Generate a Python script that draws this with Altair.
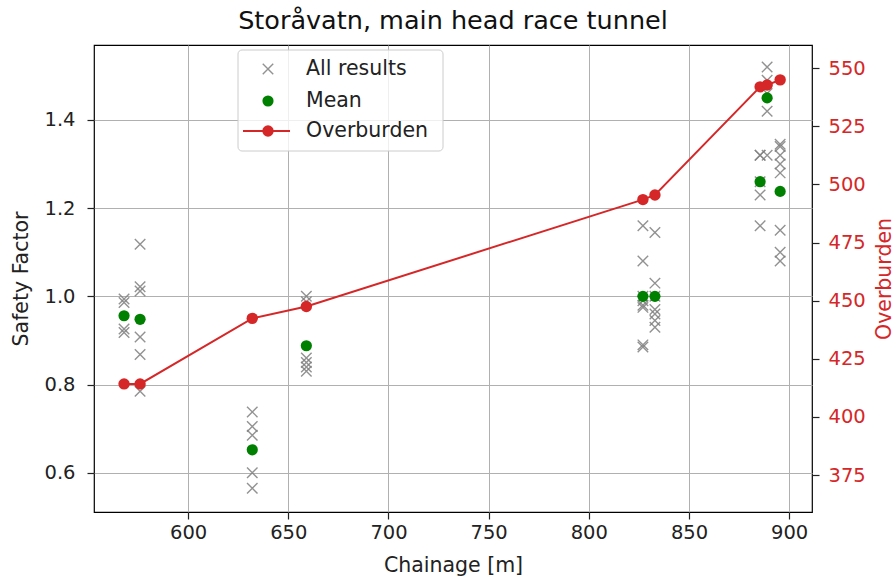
import altair as alt
import pandas as pd

# Chainage [m] of every analysed section along the head race tunnel
section_chainage = [568, 576, 632, 659, 827, 833, 885.5, 889, 895.5]

# Individual safety factors found at each section
section_results = [
    [0.994, 0.986, 0.926, 0.918],
    [1.118, 1.022, 1.012, 0.908, 0.868, 0.785],
    [0.738, 0.705, 0.685, 0.600, 0.565],
    [1.000, 0.988, 0.860, 0.850, 0.840, 0.830],
    [1.160, 1.080, 1.000, 0.990, 0.980, 0.975, 0.890, 0.885],
    [1.145, 1.030, 1.000, 0.970, 0.960, 0.945, 0.930],
    [1.320, 1.320, 1.260, 1.230, 1.160],
    [1.520, 1.490, 1.460, 1.420, 1.320],
    [1.345, 1.340, 1.320, 1.300, 1.280, 1.150, 1.100, 1.080],
]

# Mean safety factor per section
mean_sf = [0.956, 0.948, 0.652, 0.888, 1.000, 1.000, 1.260, 1.450, 1.238]

# Rock overburden [m] per section
overburden = [414.2, 414.2, 442.4, 447.5, 493.5, 495.5, 542.0, 542.8, 545.0]

x_ticks = [600, 650, 700, 750, 800, 850, 900]
sf_ticks = [0.6, 0.8, 1.0, 1.2, 1.4]
ob_ticks = [375, 400, 425, 450, 475, 500, 525, 550]

results_df = pd.DataFrame(
    [(c, v) for c, vals in zip(section_chainage, section_results) for v in vals],
    columns=["chainage", "sf"],
)
mean_df = pd.DataFrame({"chainage": section_chainage, "sf": mean_sf})
ob_df = pd.DataFrame({"chainage": section_chainage, "overburden": overburden})

FONT = "DejaVu Sans"
RED = "#d62728"
GREEN = "#008000"
GRAY = "#808080"
CROSS = "M-1,-1L1,1M-1,1L1,-1"

x_enc = alt.X(
    "chainage:Q",
    scale=alt.Scale(domain=[553, 911.4], nice=False, zero=False),
    axis=alt.Axis(
        title="Chainage [m]",
        values=x_ticks,
        format="d",
        grid=True,
        labelPadding=4,
        titlePadding=14,
    ),
)

sf_scale = alt.Scale(domain=[0.511, 1.570], nice=False, zero=False)
ob_scale = alt.Scale(domain=[359.1, 560.0], nice=False, zero=False)

crosses = alt.Chart(results_df).mark_point(
    shape=CROSS, filled=False, color=GRAY, strokeWidth=1.4, size=110, opacity=0.85
).encode(
    x=x_enc,
    y=alt.Y(
        "sf:Q",
        scale=sf_scale,
        axis=alt.Axis(
            title="Safety Factor",
            orient="left",
            values=sf_ticks,
            format=".1f",
            grid=True,
            labelPadding=12,
            titlePadding=12,
        ),
    ),
)

means = alt.Chart(mean_df).mark_point(
    shape="circle", filled=True, color=GREEN, size=125, opacity=1
).encode(x=x_enc, y=alt.Y("sf:Q", scale=sf_scale))

left = alt.layer(crosses, means)

ob_y = alt.Y(
    "overburden:Q",
    scale=ob_scale,
    axis=alt.Axis(
        title="Overburden",
        orient="right",
        values=ob_ticks,
        format="d",
        grid=False,
        labelColor=RED,
        titleColor=RED,
        titleAngle=270,
        titleBaseline="top",
        labelPadding=9,
        titlePadding=9,
    ),
)

ob_line = alt.Chart(ob_df).mark_line(color=RED, strokeWidth=2).encode(x=x_enc, y=ob_y)
ob_dots = alt.Chart(ob_df).mark_point(
    shape="circle", filled=True, color=RED, size=130, opacity=1
).encode(x=x_enc, y=alt.Y("overburden:Q", scale=ob_scale))

right = alt.layer(ob_line, ob_dots)

# Legend box drawn inside the plot area
one = pd.DataFrame({"k": [0]})
legend_box = alt.Chart(one).mark_rect(
    fill="white", fillOpacity=0.8, stroke="#cccccc", strokeWidth=1, cornerRadius=4
).encode(x=alt.value(144), x2=alt.value(349), y=alt.value(5), y2=alt.value(106))
leg_cross = alt.Chart(one).mark_point(
    shape=CROSS, filled=False, color=GRAY, strokeWidth=1.4, size=110, opacity=0.85
).encode(x=alt.value(174), y=alt.value(24))
leg_mean = alt.Chart(one).mark_point(
    shape="circle", filled=True, color=GREEN, size=125, opacity=1
).encode(x=alt.value(174), y=alt.value(56))
leg_line = alt.Chart(one).mark_rule(color=RED, strokeWidth=2).encode(
    x=alt.value(149), x2=alt.value(196), y=alt.value(86)
)
leg_dot = alt.Chart(one).mark_point(
    shape="circle", filled=True, color=RED, size=130, opacity=1
).encode(x=alt.value(174), y=alt.value(86))
leg_texts = [
    alt.Chart(one).mark_text(
        text=label, align="left", baseline="middle", font=FONT, fontSize=20.5, color="#222222"
    ).encode(x=alt.value(212), y=alt.value(yy))
    for label, yy in [("All results", 24), ("Mean", 56), ("Overburden", 86)]
]
legend = alt.layer(legend_box, leg_cross, leg_mean, leg_line, leg_dot, *leg_texts)

chart = (
    alt.layer(left, right, legend)
    .resolve_scale(y="independent")
    .properties(
        width=718,
        height=467,
        autosize=alt.AutoSizeParams(type="none"),
        padding={"left": 94, "top": 45, "right": 83, "bottom": 67},
        title=alt.TitleParams(
            "Storåvatn, main head race tunnel",
            font=FONT,
            fontSize=25.5,
            fontWeight="normal",
            color="#111111",
            anchor="middle",
            frame="group",
            baseline="bottom",
            offset=10,
            dy=24,
        ),
    )
    .configure_view(stroke="black", strokeWidth=1.2)
    .configure_axis(
        labelFont=FONT,
        titleFont=FONT,
        labelFontSize=19.5,
        titleFontSize=20.5,
        titleFontWeight="normal",
        labelColor="#222222",
        titleColor="#222222",
        tickColor="#222222",
        tickSize=7,
        tickWidth=1.2,
        domain=False,
        gridColor="#b0b0b0",
        gridWidth=1,
    )
)

chart.save("out.html", embed_options={"renderer": "svg", "actions": False})
